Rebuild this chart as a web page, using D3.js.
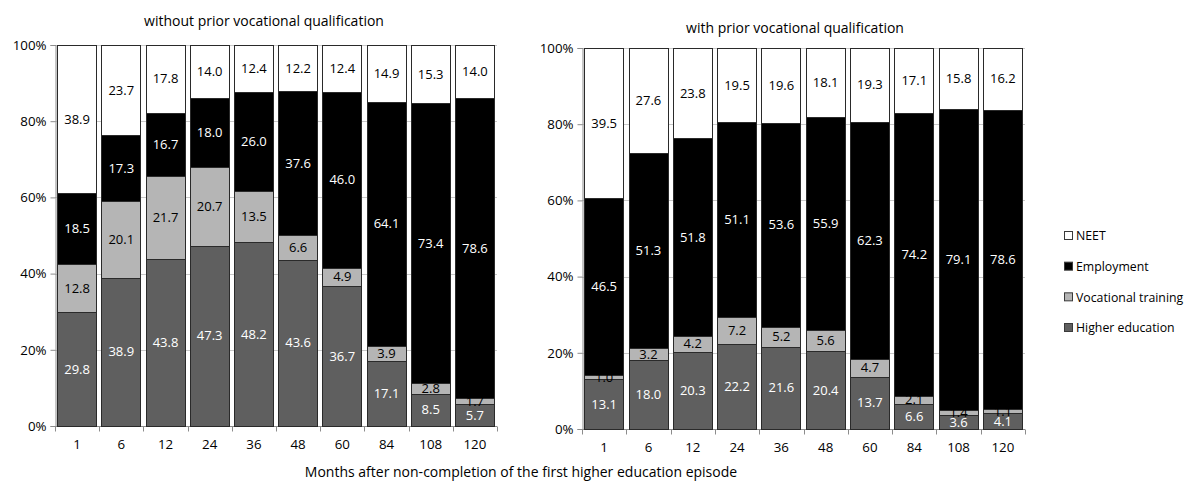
<!DOCTYPE html>
<html>
<head>
<meta charset="utf-8">
<script src="https://cdn.jsdelivr.net/npm/d3@7"></script>
<style>
  html, body { margin: 0; padding: 0; background: #fff; }
  svg { display: block; font-family: "Open Sans", "Liberation Sans", sans-serif; }
</style>
</head>
<body>
<svg id="chart" width="1187" height="483"></svg>
<script>
// Months after non-completion (category axis)
const months = ["1", "6", "12", "24", "36", "48", "60", "84", "108", "120"];
const yTicks = [0, 20, 40, 60, 80, 100];

// Series order from bottom to top of each stack
const seriesNames = ["Higher education", "Vocational training", "Employment", "NEET"];

// Without prior vocational qualification (%)
const withoutHigherEd   = [29.8, 38.9, 43.8, 47.3, 48.2, 43.6, 36.7, 17.1, 8.5, 5.7];
const withoutVocational = [12.8, 20.1, 21.7, 20.7, 13.5, 6.6, 4.9, 3.9, 2.8, 1.7];
const withoutEmployment = [18.5, 17.3, 16.7, 18.0, 26.0, 37.6, 46.0, 64.1, 73.4, 78.6];
const withoutNeet       = [38.9, 23.7, 17.8, 14.0, 12.4, 12.2, 12.4, 14.9, 15.3, 14.0];

// With prior vocational qualification (%)
const withHigherEd   = [13.1, 18.0, 20.3, 22.2, 21.6, 20.4, 13.7, 6.6, 3.6, 4.1];
const withVocational = [1.0, 3.2, 4.2, 7.2, 5.2, 5.6, 4.7, 2.1, 1.4, 1.1];
const withEmployment = [46.5, 51.3, 51.8, 51.1, 53.6, 55.9, 62.3, 74.2, 79.1, 78.6];
const withNeet       = [39.5, 27.6, 23.8, 19.5, 19.6, 18.1, 19.3, 17.1, 15.8, 16.2];

const fills = {
  "Higher education": "#5f5f5f",
  "Vocational training": "#b5b5b5",
  "Employment": "#000000",
  "NEET": "#ffffff"
};
const labelColors = {
  "Higher education": "#ffffff",
  "Vocational training": "#000000",
  "Employment": "#ffffff",
  "NEET": "#000000"
};

const svg = d3.select("#chart");

function buildRows(he, vt, emp, neet) {
  return months.map((m, i) => ({
    month: m,
    "Higher education": he[i],
    "Vocational training": vt[i],
    "Employment": emp[i],
    "NEET": neet[i]
  }));
}

function drawPanel(opts) {
  const { x0, x1, yTop, yBottom, title, titleX, titleY, rows } = opts;
  const g = svg.append("g");

  const x = d3.scaleBand().domain(months).range([x0, x1]).paddingInner(0.1).paddingOuter(0.05);
  const y = d3.scaleLinear().domain([0, 100]).range([yBottom, yTop]).clamp(true);

  // horizontal gridlines
  g.append("g").selectAll("line").data(yTicks.filter(t => t > 0)).join("line")
    .attr("x1", x0).attr("x2", x1)
    .attr("y1", d => Math.round(y(d)) + 0.5).attr("y2", d => Math.round(y(d)) + 0.5)
    .attr("stroke", "#c8c8c8").attr("stroke-width", 1);

  // y axis
  const yAxis = d3.axisLeft(y).tickValues(yTicks).tickFormat(d => d + "%").tickSize(5).tickPadding(4);
  const ya = g.append("g").attr("transform", `translate(${Math.round(x0) + 0.5},0)`).call(yAxis);
  ya.select(".domain").attr("stroke", "#8c8c8c");
  ya.selectAll(".tick line").attr("stroke", "#8c8c8c");
  ya.selectAll("text").attr("font-size", 13.3).attr("fill", "#000")
    .attr("font-family", "'Open Sans', sans-serif");

  // x axis: ticks on category boundaries
  const xa = g.append("g").attr("transform", `translate(0,${Math.round(yBottom) + 0.5})`);
  const xAxis = d3.axisBottom(x).tickSize(0).tickPadding(13);
  xa.call(xAxis);
  xa.select(".domain").attr("stroke", "#8c8c8c").attr("d", `M${x0},0H${x1}`);
  xa.selectAll("text").attr("font-size", 13.3).attr("fill", "#000")
    .attr("font-family", "'Open Sans', sans-serif");
  const step = (x1 - x0) / months.length;
  xa.selectAll("line.boundary").data(d3.range(months.length + 1)).join("line")
    .attr("class", "boundary")
    .attr("x1", i => Math.round(x0 + i * step) + 0.5).attr("x2", i => Math.round(x0 + i * step) + 0.5)
    .attr("y1", 0).attr("y2", 5).attr("stroke", "#8c8c8c");

  // stacked bars
  const stack = d3.stack().keys(seriesNames);
  const layers = stack(rows);

  const layerG = g.append("g").selectAll("g").data(layers).join("g")
    .attr("fill", d => fills[d.key]);
  layerG.selectAll("rect").data(d => d.map(s => ({ key: d.key, s }))).join("rect")
    .attr("x", d => Math.round(x(d.s.data.month)) + 0.5)
    .attr("width", Math.round(x.bandwidth()) - 1)
    .attr("y", d => Math.round(y(d.s[1])) + 0.5)
    .attr("height", d => Math.max(0, Math.round(y(d.s[0])) - Math.round(y(d.s[1]))))
    .attr("stroke", "#2a2a2a").attr("stroke-width", 1);

  // value labels
  const labelG = g.append("g");
  layers.forEach(layer => {
    labelG.selectAll(null).data(layer).join("text")
      .attr("x", d => x(d.data.month) + x.bandwidth() / 2)
      .attr("y", d => (y(d[0]) + y(d[1])) / 2)
      .attr("dy", "0.35em")
      .attr("text-anchor", "middle")
      .attr("font-size", 13)
      .attr("fill", labelColors[layer.key])
      .text(d => (d[1] - d[0]).toFixed(1));
  });

  // panel title
  g.append("text")
    .attr("x", titleX).attr("y", titleY)
    .attr("text-anchor", "middle").attr("font-size", 14).attr("fill", "#000")
    .text(title);
}

drawPanel({
  x0: 55, x1: 497, yTop: 45, yBottom: 426,
  title: "without prior vocational qualification", titleX: 264, titleY: 26,
  rows: buildRows(withoutHigherEd, withoutVocational, withoutEmployment, withoutNeet)
});

drawPanel({
  x0: 582, x1: 1025, yTop: 48, yBottom: 429,
  title: "with prior vocational qualification", titleX: 795, titleY: 33,
  rows: buildRows(withHigherEd, withVocational, withEmployment, withNeet)
});

// shared x-axis title
svg.append("text")
  .attr("x", 521).attr("y", 477)
  .attr("text-anchor", "middle").attr("font-size", 14).attr("fill", "#000")
  .text("Months after non-completion of the first higher education episode");

// legend (top series first)
const legendNames = seriesNames.slice().reverse();
const legendY = d3.scalePoint().domain(legendNames).range([236, 328]);
const lg = svg.append("g").selectAll("g").data(legendNames).join("g")
  .attr("transform", d => `translate(1064,${legendY(d)})`);
lg.append("rect")
  .attr("x", 0.5).attr("y", -4.5).attr("width", 8).attr("height", 8)
  .attr("fill", d => fills[d]).attr("stroke", "#3a3a3a");
lg.append("text")
  .attr("x", 12).attr("dy", "0.35em")
  .attr("font-size", 12.3).attr("fill", "#000")
  .text(d => d);
</script>
</body>
</html>
